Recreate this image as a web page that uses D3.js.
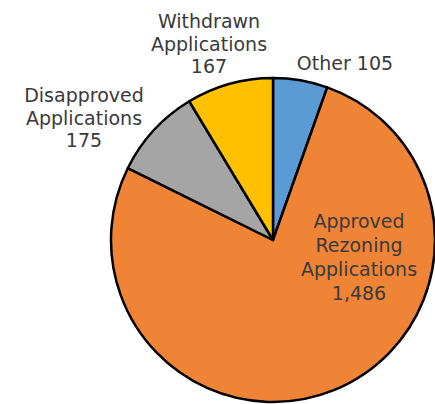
<!DOCTYPE html>
<html>
<head>
<meta charset="utf-8">
<script src="https://cdn.jsdelivr.net/npm/d3@7"></script>
<style>
  html, body { margin: 0; padding: 0; background: #ffffff; }
  svg { display: block; }
  text { font-family: "DejaVu Sans", sans-serif; fill: #3a3a3a; }
</style>
</head>
<body>
<svg id="chart" width="435" height="404"></svg>
<script>
// Data
const categories = ["Other", "Approved Rezoning Applications", "Disapproved Applications", "Withdrawn Applications"];
const values = [105, 1486, 175, 167];
const valueLabels = ["105", "1,486", "175", "167"];
const labelLines = [["Other 105"], ["Approved", "Rezoning", "Applications", "1,486"], ["Disapproved", "Applications", "175"], ["Withdrawn", "Applications", "167"]];
const colors = ["#5B9BD5", "#EF8437", "#A5A5A5", "#FFC000"];

// Layout (not data)
const cx = 273, cy = 240, r = 162;
const labelAnchors = [[345, 70], [359, 228], [84, 102], [209, 28]];
const labelFont = [19, 19, 19, 19];
const labelStep = [0, 24, 22.5, 22.5];

const svg = d3.select("#chart");
const pie = d3.pie().sort(null).value(d => d)(values);
const arc = d3.arc().innerRadius(0).outerRadius(r);

const g = svg.append("g").attr("transform", `translate(${cx},${cy})`);
g.selectAll("path").data(pie).join("path")
  .attr("d", arc)
  .attr("fill", (d, i) => colors[i])
  .attr("stroke", "#000")
  .attr("stroke-width", 2.5)
  .attr("stroke-linejoin", "round");

labelLines.forEach((lines, i) => {
  const t = svg.append("text")
    .attr("text-anchor", "middle")
    .attr("font-size", labelFont[i]);
  lines.forEach((ln, j) => {
    t.append("tspan")
      .attr("x", labelAnchors[i][0])
      .attr("y", labelAnchors[i][1] + j * labelStep[i])
      .text(ln);
  });
});
</script>
</body>
</html>
